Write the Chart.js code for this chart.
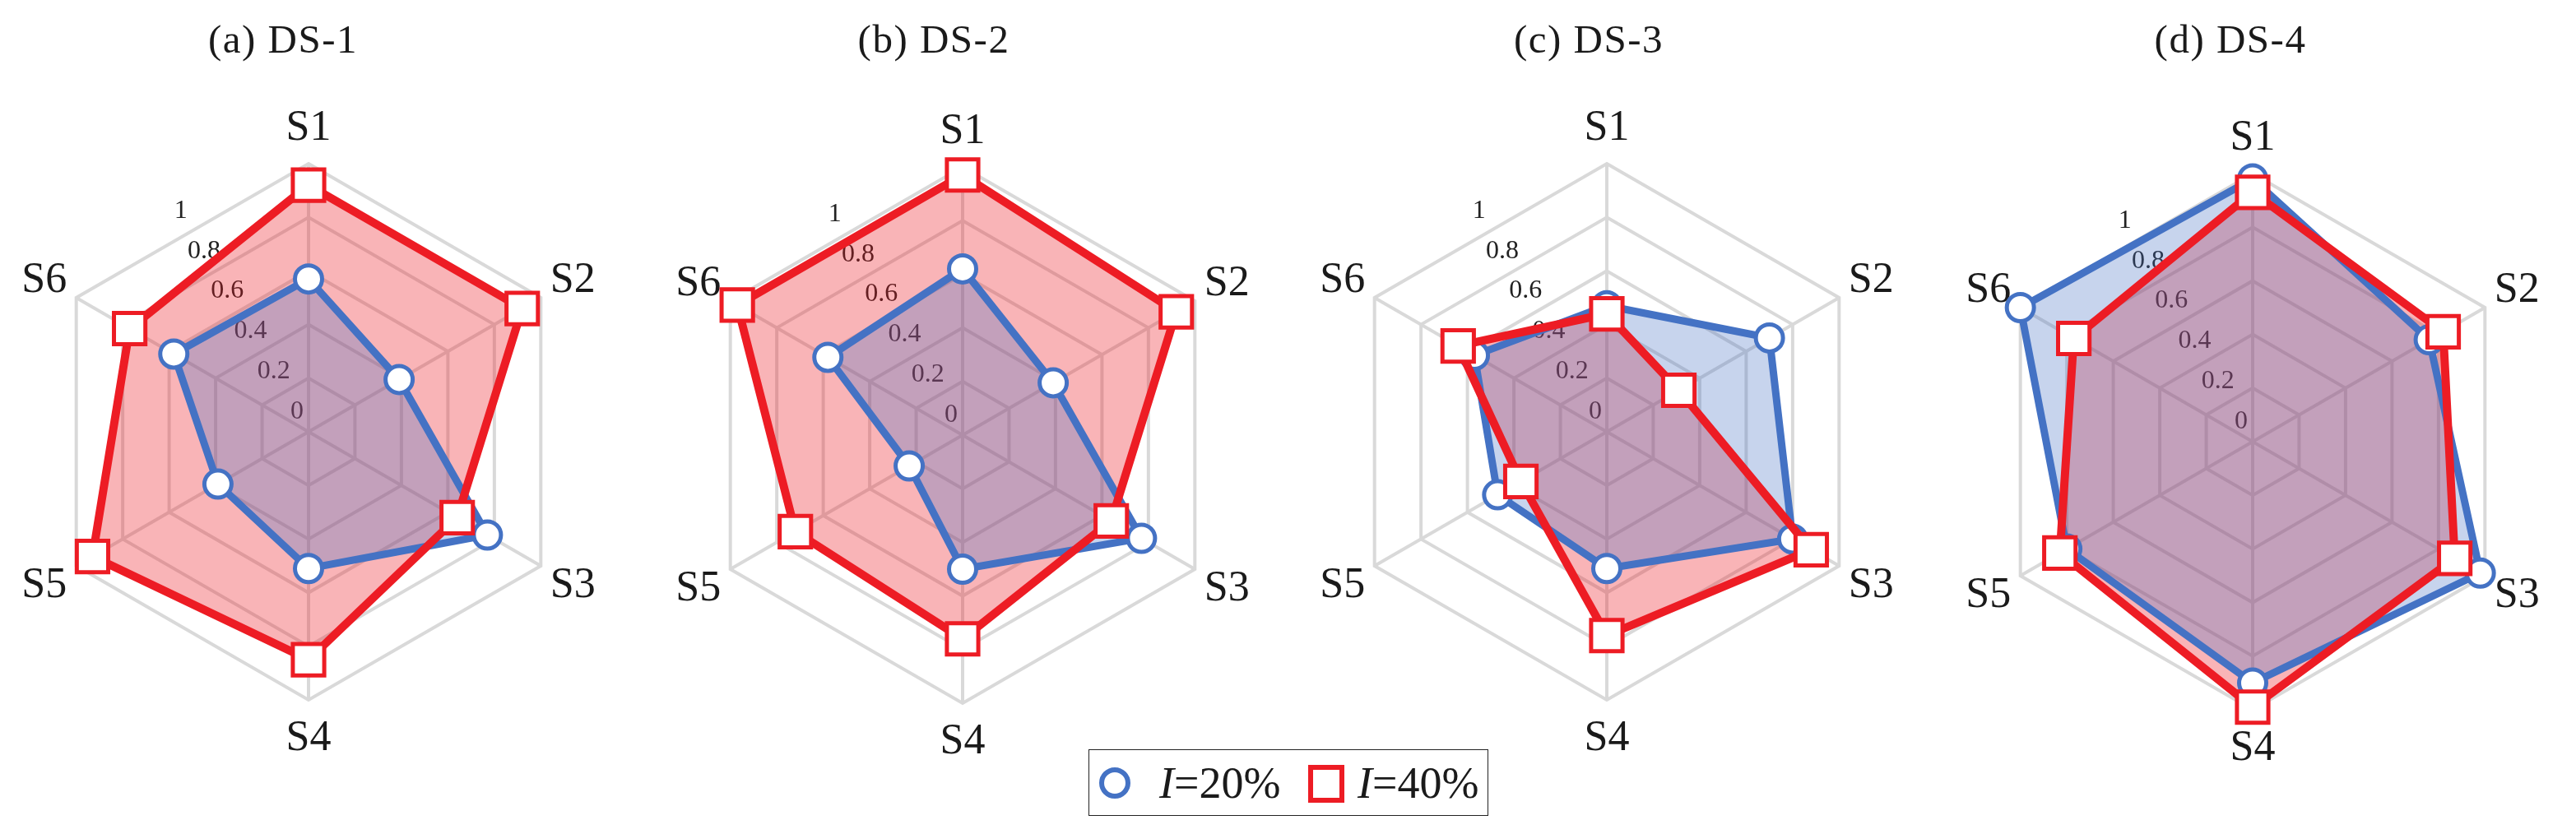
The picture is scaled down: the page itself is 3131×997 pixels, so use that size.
<!DOCTYPE html>
<html>
<head>
<meta charset="utf-8">
<script src="https://cdn.jsdelivr.net/npm/chart.js@4.4.1/dist/chart.umd.min.js"></script>
<style>
  html, body { margin: 0; padding: 0; background: #fff; }
  body { width: 3131px; height: 997px; position: relative; overflow: hidden; font-family: "Liberation Serif", "DejaVu Serif", serif; color: #1a1a1a; }
  canvas { position: absolute; top: 0; }
  .ptitle { position: absolute; top: 18px; width: 400px; text-align: center; font-size: 49px; letter-spacing: 1.5px; line-height: 60px; white-space: nowrap; }
  #legend { position: absolute; left: 1323px; top: 911px; width: 486px; height: 81px; border: 1.5px solid #222; box-sizing: border-box; }
  .lg-txt { position: absolute; font-size: 54px; line-height: 60px; white-space: nowrap; }
  .lg-circle { position: absolute; width: 38px; height: 38px; box-sizing: border-box; border: 6px solid #4472C4; border-radius: 50%; background: #fff; }
  .lg-square { position: absolute; width: 44px; height: 46px; box-sizing: border-box; border: 6px solid #ED1C24; background: #fff; }
</style>
</head>
<body>
<div class="ptitle" id="t0"></div>
<div class="ptitle" id="t1"></div>
<div class="ptitle" id="t2"></div>
<div class="ptitle" id="t3"></div>
<canvas id="c0" width="760" height="997"></canvas>
<canvas id="c1" width="760" height="997"></canvas>
<canvas id="c2" width="760" height="997"></canvas>
<canvas id="c3" width="760" height="997"></canvas>
<div id="legend">
  <div class="lg-circle" style="left:12px; top:21px;"></div>
  <div class="lg-txt" style="left:85px; top:10px;"><i>I</i>=20%</div>
  <div class="lg-square" style="left:266px; top:18px;"></div>
  <div class="lg-txt" style="left:326px; top:10px;"><i>I</i>=40%</div>
</div>
<script>
// axes / ticks
const categories = ['S1', 'S2', 'S3', 'S4', 'S5', 'S6'];
const tickValues = [0, 0.2, 0.4, 0.6, 0.8, 1];
const tickLabels = ['0', '0.2', '0.4', '0.6', '0.8', '1'];
const panelTitles = ['(a) DS-1', '(b) DS-2', '(c) DS-3', '(d) DS-4'];
const seriesNames = ['I=20%', 'I=40%'];

// values (I = 20% / I = 40%)
const ds1_i20 = [0.57, 0.39, 0.77, 0.51, 0.39, 0.58];
const ds1_i40 = [0.92, 0.92, 0.64, 0.85, 0.93, 0.77];
const ds2_i20 = [0.62, 0.39, 0.77, 0.50, 0.23, 0.58];
const ds2_i40 = [0.97, 0.92, 0.64, 0.76, 0.72, 0.97];
const ds3_i20 = [0.47, 0.70, 0.80, 0.51, 0.47, 0.57];
const ds3_i40 = [0.44, 0.31, 0.88, 0.76, 0.37, 0.64];
const ds4_i20 = [0.98, 0.76, 0.98, 0.90, 0.80, 1.00];
const ds4_i40 = [0.93, 0.82, 0.87, 0.99, 0.83, 0.77];

const panels = [
    { id: 'c0', title: 't0', cx: 375,  cy: 525, tx: 344,  low: ds1_i20, high: ds1_i40 },
    { id: 'c1', title: 't1', cx: 1170, cy: 529, tx: 1135, low: ds2_i20, high: ds2_i40 },
    { id: 'c2', title: 't2', cx: 1953, cy: 525, tx: 1931, low: ds3_i20, high: ds3_i40 },
    { id: 'c3', title: 't3', cx: 2738, cy: 537, tx: 2711, low: ds4_i20, high: ds4_i40 },
];

const BLUE = '#4472C4';
const RED = '#ED1C24';
const RADIUS = 326;
const CANVAS_W = 760;
const CANVAS_H = 997;

// tick labels run along the bisector between S1 and S6, point labels sit outside the vertices
const radarText = {
    id: 'radarText',
    beforeDatasetsDraw(chart) {
        const r = chart.scales.r;
        const ctx = chart.ctx;
        ctx.save();
        ctx.textAlign = 'center';
        ctx.textBaseline = 'middle';
        ctx.fillStyle = '#222';
        ctx.font = '32px "Liberation Serif"';
        const ang = -2 * Math.PI / 3;
        tickValues.forEach((v, i) => {
            const d = r.getDistanceFromCenterForValue(v) * Math.cos(Math.PI / 6) + 28;
            ctx.fillText(tickLabels[i], r.xCenter + Math.cos(ang) * d, r.yCenter + Math.sin(ang) * d);
        });
        ctx.fillStyle = '#1a1a1a';
        ctx.font = '52px "Liberation Serif"';
        categories.forEach((c, i) => {
            const p = r.getPointPosition(i, r.drawingArea + 45);
            ctx.fillText(c, p.x, p.y + 2);
        });
        ctx.restore();
    }
};

panels.forEach((p, k) => {
    const t = document.getElementById(p.title);
    t.textContent = panelTitles[k];
    t.style.left = (p.tx - 200) + 'px';

    const canvas = document.getElementById(p.id);
    canvas.style.left = (p.cx - CANVAS_W / 2) + 'px';

    new Chart(canvas, {
        type: 'radar',
        data: {
            labels: categories,
            datasets: [
                // drawn last -> on top
                { label: seriesNames[1], data: p.high, fill: false, borderColor: RED, borderWidth: 10,
                  pointStyle: 'rect', pointRadius: 27, pointBorderWidth: 5,
                  pointBorderColor: RED, pointBackgroundColor: '#fff' },
                { label: seriesNames[0], data: p.low, fill: false, borderColor: BLUE, borderWidth: 9,
                  pointStyle: 'circle', pointRadius: 16.5, pointBorderWidth: 5,
                  pointBorderColor: BLUE, pointBackgroundColor: '#fff' },
                // area fills (blue area sits above red area)
                { label: 'fill20', data: p.low, fill: true, backgroundColor: 'rgba(68,114,196,0.30)',
                  borderWidth: 0, borderColor: 'rgba(0,0,0,0)', pointRadius: 0 },
                { label: 'fill40', data: p.high, fill: true, backgroundColor: 'rgba(237,28,36,0.33)',
                  borderWidth: 0, borderColor: 'rgba(0,0,0,0)', pointRadius: 0 },
            ]
        },
        options: {
            responsive: false,
            animation: false,
            layout: {
                padding: {
                    left: CANVAS_W / 2 - RADIUS,
                    right: CANVAS_W / 2 - RADIUS,
                    top: p.cy - RADIUS,
                    bottom: CANVAS_H - p.cy - RADIUS
                }
            },
            elements: { line: { tension: 0 } },
            plugins: {
                legend: { display: false },
                tooltip: { enabled: false },
                title: { display: false }
            },
            scales: {
                r: {
                    min: 0,
                    max: 1,
                    ticks: { stepSize: 0.2, display: false },
                    grid: { color: '#D9D9D9', lineWidth: 4 },
                    angleLines: { color: '#D9D9D9', lineWidth: 4 },
                    pointLabels: { display: false }
                }
            }
        },
        plugins: [radarText]
    });
});
</script>
</body>
</html>
